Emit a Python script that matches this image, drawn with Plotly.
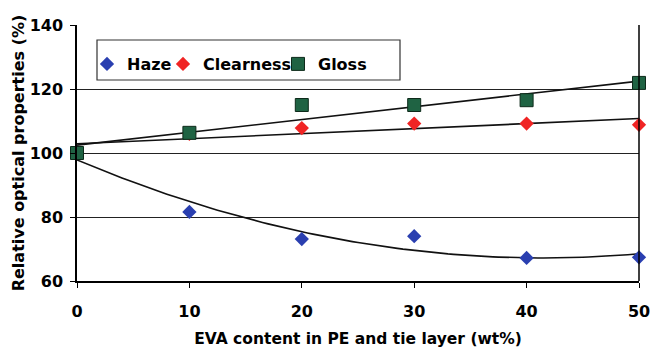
import numpy as np
import plotly.graph_objects as go

# EVA content (wt%) and relative optical properties (%)
eva = [0, 10, 20, 30, 40, 50]
haze = [100, 81.6, 73.1, 74.0, 67.2, 67.4]
clearness = [100, 106.0, 107.8, 109.2, 109.2, 108.8]
gloss = [100, 106.3, 115.0, 115.0, 116.5, 121.9]

x_ticks = [0, 10, 20, 30, 40, 50]
y_ticks = [60, 80, 100, 120, 140]

FONT = "DejaVu Sans, Arial, sans-serif"

# Trend lines (polynomial for haze, linear for clearness and gloss)
xs = np.linspace(0, 50, 101)
haze_fit = np.polyval(np.polyfit(eva, haze, 2), xs)
clear_fit = np.polyval(np.polyfit(eva, clearness, 1), xs)
gloss_fit = np.polyval(np.polyfit(eva, gloss, 1), xs)

fig = go.Figure()

for fit in (haze_fit, clear_fit, gloss_fit):
    fig.add_trace(go.Scatter(x=xs, y=fit, mode="lines",
                             line=dict(color="#111111", width=1.6),
                             showlegend=False, hoverinfo="skip"))

fig.add_trace(go.Scatter(x=eva, y=haze, mode="markers", name="Haze", cliponaxis=False,
                         legend="legend",
                         marker=dict(symbol="diamond", size=11, color="#2a3fb0")))
fig.add_trace(go.Scatter(x=eva, y=clearness, mode="markers", name="Clearness", cliponaxis=False,
                         legend="legend2",
                         marker=dict(symbol="diamond", size=11, color="#f02424")))
fig.add_trace(go.Scatter(x=eva, y=gloss, mode="markers", name="Gloss", cliponaxis=False,
                         legend="legend3",
                         marker=dict(symbol="square", size=13, color="#1f6343",
                                     line=dict(color="#0d2a1a", width=1))))

# Plot-area geometry in pixels, used to place legend entries and frame
L, R, T, B = 77, 639, 25, 281
W, H = R - L, B - T


def px_x(p):
    return (p - L) / W


def px_y(p):
    return (B - p) / H


def legend_at(text_left):
    return dict(orientation="h", x=px_x(text_left - 40), y=px_y(47),
                xanchor="left", yanchor="top", borderwidth=0,
                bgcolor="rgba(0,0,0,0)", itemwidth=30,
                font=dict(family=FONT, size=16, color="black", weight="bold"))


fig.update_layout(
    width=650, height=352,
    margin=dict(l=L, r=650 - R, t=T, b=352 - B),
    paper_bgcolor="white", plot_bgcolor="white",
    font=dict(family=FONT, size=16, color="black", weight="bold"),
    showlegend=True,
    legend=legend_at(127),
    legend2=legend_at(203),
    legend3=legend_at(318),
)

fig.update_xaxes(
    range=[0, 50], tickvals=x_ticks, ticktext=[str(v) for v in x_ticks],
    showgrid=False, zeroline=False, automargin=False,
    showline=True, linecolor="black", linewidth=1.5, mirror=False,
    ticks="outside", ticklen=5, tickcolor="black", ticklabelstandoff=10,
    ticklabeloverflow="allow",
    title=dict(text="EVA content in PE and tie layer (wt%)", standoff=13,
               font=dict(family=FONT, size=15.5, weight="bold")),
    tickfont=dict(family=FONT, size=16, weight="bold"),
)
fig.update_yaxes(
    range=[60, 140], tickvals=y_ticks, ticktext=[str(v) for v in y_ticks],
    showgrid=True, gridcolor="#222222", gridwidth=1, zeroline=False, automargin=False,
    showline=True, linecolor="black", linewidth=1.5,
    ticks="outside", ticklen=5, tickcolor="black", ticklabelstandoff=4,
    title=dict(text="Relative optical properties (%)", standoff=1,
               font=dict(family=FONT, size=16, weight="bold")),
    tickfont=dict(family=FONT, size=16, weight="bold"),
)

# Right border of plot area
fig.add_shape(type="line", xref="paper", yref="paper", x0=1, x1=1, y0=0, y1=1,
              line=dict(color="black", width=1.5))

# Legend frame
fig.add_shape(type="rect", xref="paper", yref="paper",
              x0=px_x(97), x1=px_x(400), y0=px_y(80), y1=px_y(40),
              line=dict(color="#333333", width=1.2), fillcolor="white", layer="below")

fig.write_html("out.html")
